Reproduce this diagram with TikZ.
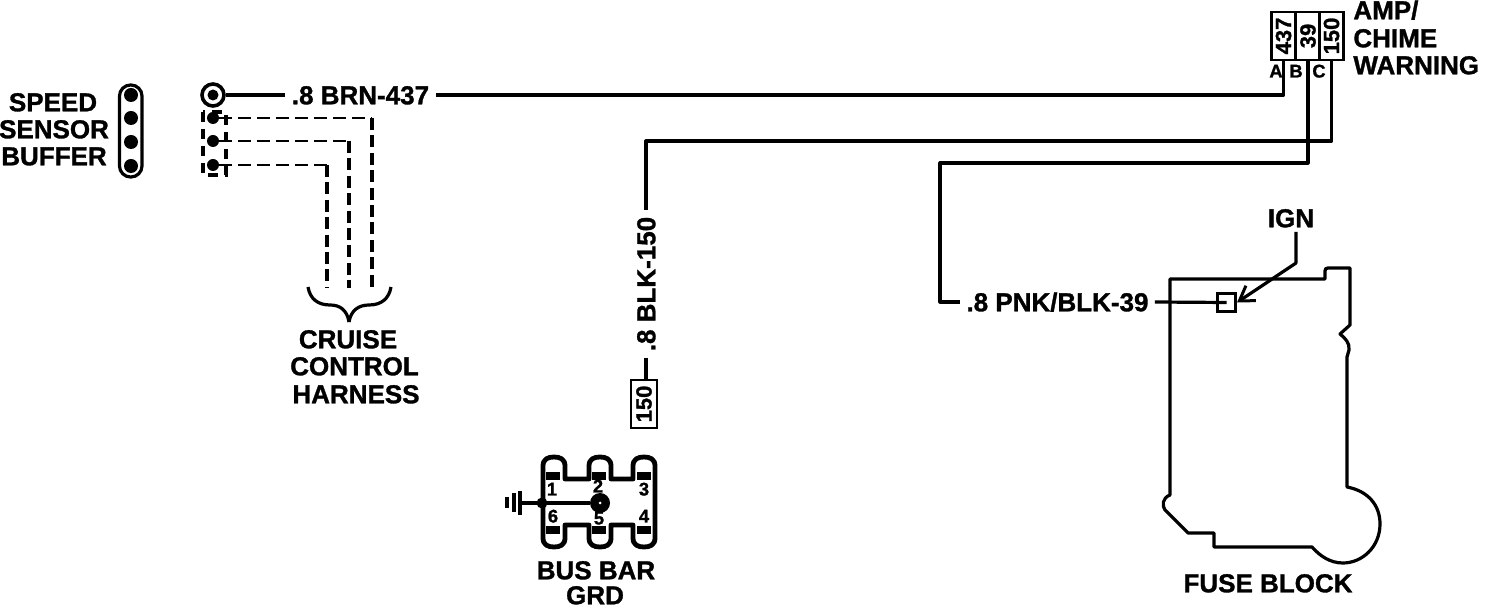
\documentclass[tikz,border=0pt]{standalone}
\usepackage{fontspec}
\setmainfont{Liberation Sans}[BoldFeatures={FakeBold=1.2}]
\usetikzlibrary{arrows.meta}
\tikzset{
  wire/.style={line width=1.6pt,line join=round},
  dashwire/.style={line width=1.2pt,dash pattern=on 6.5pt off 3pt},
  dashdrop/.style={line width=2.1pt,dash pattern=on 6pt off 2.7pt},
  lbl/.style={inner sep=0pt,text height=9.3pt,text depth=0pt,font=\fontsize{13}{13}\selectfont\bfseries},
  wirelbl/.style={lbl,inner xsep=3pt},
  pin/.style={draw,line width=1.4pt,rotate=90,inner sep=0pt,minimum width=24pt,minimum height=12pt,
    font=\fontsize{11}{11}\selectfont\bfseries},
  small/.style={inner sep=0pt,text height=6.5pt,text depth=0pt,font=\fontsize{9.2}{9}\selectfont\bfseries},
  dot/.style={circle,fill=black,inner sep=0pt,minimum size=#1},
  pad/.style={fill=black,inner sep=0pt,minimum width=7pt,minimum height=4pt}
}
\begin{document}
\begin{tikzpicture}[x=0.5pt,y=-0.5pt]
\newcommand\LobeUp[1]{-- (#1-11,479) -- (#1-11,466) .. controls (#1-11,459) and (#1-6,457) .. (#1,457) .. controls (#1+6,457) and (#1+11,459) .. (#1+11,466) -- (#1+11,479)}
\newcommand\LobeDown[1]{-- (#1+11,525) -- (#1+11,538) .. controls (#1+11,545) and (#1+6,547) .. (#1,547) .. controls (#1-6,547) and (#1-11,545) .. (#1-11,538) -- (#1-11,525)}
\useasboundingbox (0,0) rectangle (1504,608);

\node[lbl] (speed) at (53,102) {SPEED};
\node[lbl] (sensor) at (54,129) {SENSOR};
\node[lbl] (buffer) at (54,156) {BUFFER};
\draw [wire,rounded corners=5.5pt] (119.5,85) rectangle (142,177);
\node[dot=7pt] (buf1) at (131,95) {};
\node[dot=7pt] (buf2) at (131,118) {};
\node[dot=7pt] (buf3) at (131,142) {};
\node[dot=7pt] (buf4) at (131,166) {};

\node[circle,draw,line width=1.8pt,inner sep=0pt,minimum size=11pt] (ring437) at (213,95) {};
\node[dot=5.5pt] (ringdot) at (213,95) {};
\node[wirelbl] (brn) at (360.5,95) {.8 BRN-437};
\node[dot=6pt] (term1) at (213,118) {};
\node[dot=6pt] (term2) at (213,141) {};
\node[dot=6pt] (term3) at (213,165) {};
\draw [line width=1.6pt,dash pattern=on 5pt off 3.5pt] (203,112) rectangle (226,175);
\coordinate (bend1) at (372,118);
\coordinate (bend2) at (349,141);
\coordinate (bend3) at (327,165);
\coordinate (end1) at (372,288);
\coordinate (end2) at (349,288);
\coordinate (end3) at (327,288);
\draw [dashwire] (term1) -- (bend1);
\draw [dashwire] (term2) -- (bend2);
\draw [dashwire] (term3) -- (bend3);
\draw [dashdrop] (bend1) -- (end1);
\draw [dashdrop] (bend2) -- (end2);
\draw [dashdrop] (bend3) -- (end3);
\draw [wire] (308,287) .. controls (310,299) and (318,305) .. (330,305) .. controls (340,305) and (347,310) .. (349,322);
\draw [wire] (391,287) .. controls (389,299) and (381,305) .. (369,305) .. controls (359,305) and (351,310) .. (349,322);
\node[lbl] (cruise) at (348,339) {CRUISE};
\node[lbl] (control) at (354.5,366) {CONTROL};
\node[lbl] (harness) at (356,394) {HARNESS};

\node[pin] (pin437) at (1283.5,36) {437};
\node[pin] (pin39) at (1308,36) {39};
\node[pin] (pin150) at (1331.5,36) {150};
\node[small] (pina) at (1276,71) {A};
\node[small] (pinb) at (1296,71) {B};
\node[small] (pinc) at (1319,71) {C};
\node[lbl,anchor=west] (amp) at (1353,10) {AMP/};
\node[lbl,anchor=west] (chime) at (1353,38) {CHIME};
\node[lbl,anchor=west] (warning) at (1353,65) {WARNING};

\draw [wire] (ring437) -- (brn);
\draw [wire] (pin437.west) |- (brn.east);
\coordinate (bendc) at (646,141);
\coordinate (bendb) at (940,163);
\node[wirelbl,rotate=90] (blk) at (646,284) {.8 BLK-150};
\node[pin,minimum height=13pt] (box150) at (644,404) {150};
\draw [wire] (pin150.west) |- (bendc) -- (blk.east);
\draw [wire] (blk.west) -- (blk.west |- box150.east);

\node[wirelbl] (pnk) at (1057.5,302) {.8 PNK/BLK-39};
\draw [wire] (pin39.west) |- (bendb) |- (pnk.west);

\draw [wire] (1170,279) -- (1325,279) -- (1325,271) .. controls (1325,269) and (1326,268) .. (1328,268) -- (1350,268) -- (1350,325) -- (1340,334) .. controls (1345,338) and (1350,343) .. (1349,350) -- (1347,357) -- (1347,487) .. controls (1368,491) and (1380,505) .. (1380,524) .. controls (1380,547) and (1362,563) .. (1343,563) .. controls (1330,563) and (1320,556) .. (1312,547) -- (1214,547) -- (1214,533) -- (1188,533) -- (1165,510) .. controls (1162,506) and (1162,498) .. (1170,495) -- cycle;
\node[draw,line width=1.5pt,fill=white,inner sep=0pt,minimum size=9pt] (fuse39) at (1226.5,302.5) {};
\draw [wire] (pnk.east) -- (fuse39.center);
\node[lbl] (ign) at (1291,218) {IGN};
\coordinate (ignstart) at (1296,232);
\coordinate (ignbend) at (1296,263);
\draw [wire,-{Straight Barb[length=7pt,width=9pt,line width=1.5pt]}] (ignstart) -- (ignbend) -- (fuse39.east);
\node[lbl] (fuseblock) at (1268,583) {FUSE BLOCK};

\draw [line width=2.4pt,line join=round] (543,503) -- (543,479) \LobeUp{554} \LobeUp{600} \LobeUp{644} -- (655,503) -- (655,525) \LobeDown{644} \LobeDown{600} \LobeDown{554} -- cycle;
\foreach \x/\n in {553/a,599/b,644/c} {
  \node[pad] (top\n) at (\x,476) {};
  \node[pad] (bot\n) at (\x,530) {};
}
\node[small] (n1) at (552,489) {1};
\node[small] (n2) at (598,486) {2};
\node[small] (n3) at (644,489) {3};
\node[small] (n6) at (553,516) {6};
\node[small] (n5) at (599,518) {5};
\node[small] (n4) at (644,516) {4};
\node[dot=5.5pt] (busdot) at (542,503) {};
\node[dot=10pt] (stud) at (600,503) {};
\node[dot=1.5pt,fill=white] (studhole) at (600,503) {};
\coordinate (grd) at (520,503);
\draw [line width=2pt] (grd) -- (stud);
\draw [line width=2pt] (520,491) -- (520,515);
\draw [line width=2pt] (514,493) -- (514,512);
\draw [line width=2pt] (507,497) -- (507,508);
\node[lbl] (busbar) at (596,570) {BUS BAR};
\node[lbl] (busgrd) at (595,595) {GRD};
\end{tikzpicture}
\end{document}
